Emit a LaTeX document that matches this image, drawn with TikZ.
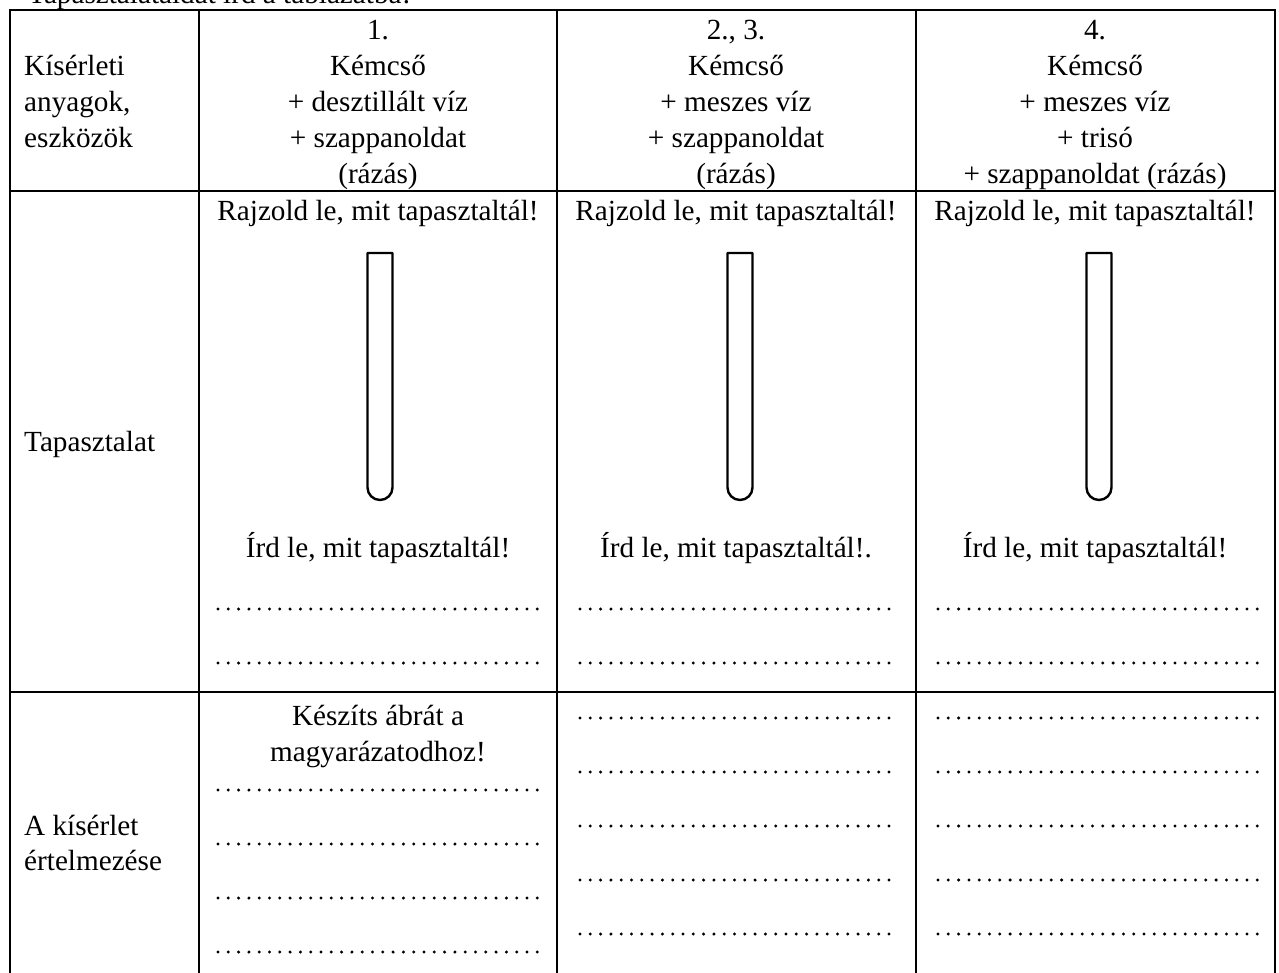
\documentclass[tikz,border=0pt]{standalone}
\usepackage{fontspec}
\setmainfont{Liberation Serif}
\begin{document}
\begin{tikzpicture}[x=1pt,y=-1pt,
  txt/.style={inner sep=0pt,anchor=base,font=\fontsize{29.2}{35}\selectfont},
  lbl/.style={txt,anchor=base west},
  rule/.style={line width=2.6pt,line cap=rect},
  tube/.style={line width=2.4pt,line join=round},
  fillline/.style={line width=3.3pt,line cap=round,dash pattern=on 0pt off 10.3pt}]
\useasboundingbox (0,0) rectangle (1279,972);
\clip (0,0) rectangle (1279,972);
\fill[white] (0,0) rectangle (1279,972);

% heading line above the table (only its lower part is on the page)
\node[lbl] (title) at (28,3) {Tapasztalataidat írd a táblázatba!};

% table grid
\coordinate (L) at (10,10);
\coordinate (C1) at (199,10);
\coordinate (C2) at (557,10);
\coordinate (C3) at (916,10);
\coordinate (R) at (1275,10);
\draw[rule] (L) -- (R);
\draw[rule] (10,191) -- (1275,191);
\draw[rule] (10,692) -- (1275,692);
\foreach \c in {L,C1,C2,C3,R} \draw[rule] (\c) -- (\c |- 0,980);

% header row
\node[lbl] (k1) at (24,75) {Kísérleti};
\node[lbl] (k2) at (24,111) {anyagok,};
\node[lbl] (k3) at (24,147) {eszközök};

\node[txt] (a1) at (378,39) {1.};
\node[txt] (a2) at (378,75) {Kémcső};
\node[txt] (a3) at (378,111) {+ desztillált víz};
\node[txt] (a4) at (378,147) {+ szappanoldat};
\node[txt] (a5) at (378,183) {(rázás)};

\node[txt] (b1) at (736,39) {2., 3.};
\node[txt] (b2) at (736,75) {Kémcső};
\node[txt] (b3) at (736,111) {+ meszes víz};
\node[txt] (b4) at (736,147) {+ szappanoldat};
\node[txt] (b5) at (736,183) {(rázás)};

\node[txt] (c1) at (1095,39) {4.};
\node[txt] (c2) at (1095,75) {Kémcső};
\node[txt] (c3) at (1095,111) {+ meszes víz};
\node[txt] (c4) at (1095,147) {+ trisó};
\node[txt] (c5) at (1095,183) {+ szappanoldat (rázás)};

% observation row
\node[lbl] (t1) at (24,451) {Tapasztalat};
\node[txt] (ra) at (378,220) {Rajzold le, mit tapasztaltál!};
\node[txt] (rb) at (736,220) {Rajzold le, mit tapasztaltál!};
\node[txt] (rc) at (1095,220) {Rajzold le, mit tapasztaltál!};

% test tubes
\foreach \cx/\n in {380/ta,740/tb,1099/tc}{
  \draw[tube] (\cx-12.5,253) -- (\cx+12.5,253) -- (\cx+12.5,487.5)
    arc (0:180:12.5) -- cycle;
  \coordinate (\n) at (\cx,375);
}

\node[txt] (ia) at (378,557) {Írd le, mit tapasztaltál!};
\node[txt] (ib) at (736,557) {Írd le, mit tapasztaltál!.};
\node[txt] (ic) at (1095,557) {Írd le, mit tapasztaltál!};

\foreach \y in {609,663}{
  \draw[fillline] (218,\y) -- (541,\y);
  \draw[fillline] (580,\y) -- (899,\y);
  \draw[fillline] (938,\y) -- (1263,\y);
}

% interpretation row
\node[lbl] (e1) at (24,835) {A kísérlet};
\node[lbl] (e2) at (24,870) {értelmezése};
\node[txt] (m1) at (378,725) {Készíts ábrát a};
\node[txt] (m2) at (378,761) {magyarázatodhoz!};

\foreach \y in {790,844,898,952}
  \draw[fillline] (218,\y) -- (541,\y);
\foreach \y in {718,772,826,880,934}{
  \draw[fillline] (580,\y) -- (899,\y);
  \draw[fillline] (938,\y) -- (1263,\y);
}
\end{tikzpicture}
\end{document}
